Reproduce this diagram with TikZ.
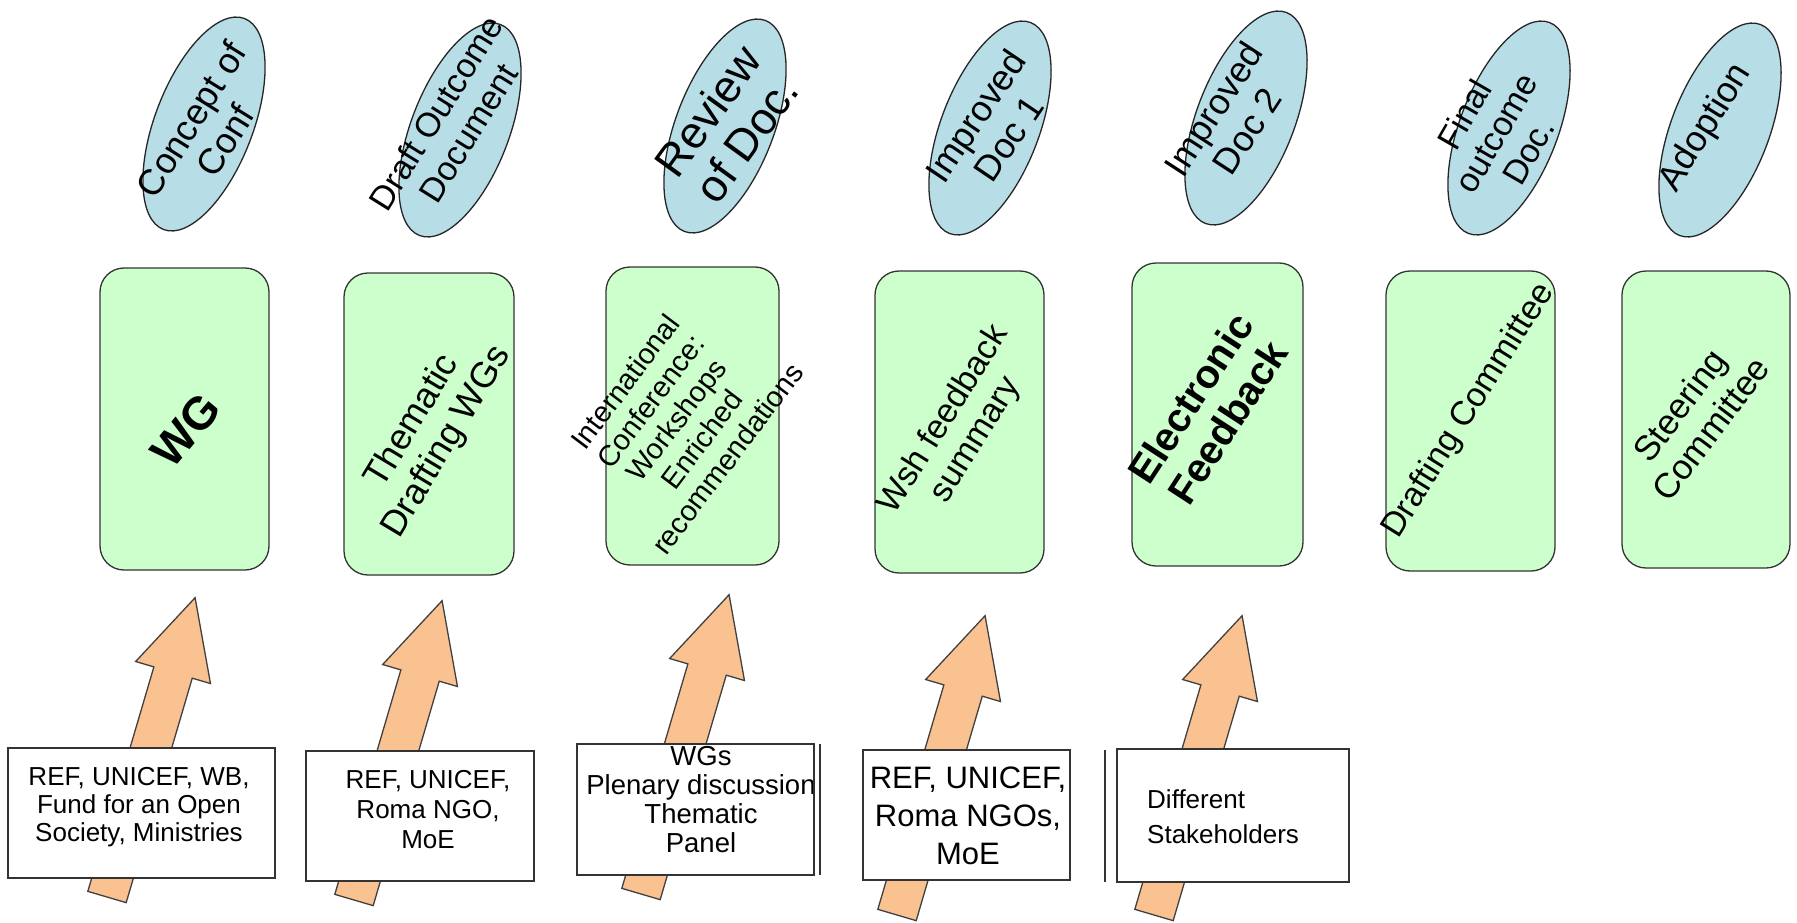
\documentclass[tikz,border=0pt]{standalone}
\usepackage{fontspec}
\setmainfont{Liberation Sans}
\usetikzlibrary{shapes.geometric}
\definecolor{boxgreen}{RGB}{204,255,204}
\definecolor{ellblue}{RGB}{183,221,231}
\definecolor{arrowfill}{RGB}{250,193,145}
\newcommand{\fsz}[2]{\fontsize{#1}{#2}\selectfont}
\newcommand{\blockarrowat}[2]{%
  \draw[blockarrow, shift={(#1,#2)}, rotate=-16.4]
    (-20,0) -- (-20,-234) -- (-39,-234) -- (0,-312) -- (39,-234) -- (20,-234) -- (20,0) -- cycle;}
\begin{document}
\begin{tikzpicture}[x=1pt,y=-1pt,
  greenbox/.style={draw=black!80, line width=1.3pt, fill=boxgreen, rounded corners=24pt, inner sep=0pt},
  ellnode/.style={draw=black!85, line width=1.3pt, fill=ellblue, ellipse, minimum width=226pt, minimum height=98pt, rotate=69, inner sep=0pt},
  lbl/.style={align=center, inner sep=0pt, text=black},
  srcbox/.style={draw=black!80, line width=1.3pt, inner sep=0pt},
  blockarrow/.style={draw=black!75, line width=1.3pt, fill=arrowfill, line join=miter},
  thinline/.style={draw=black!80, line width=1.3pt},
]
\useasboundingbox (0,0) rectangle (1797,923);

% ---- ellipses (top row)
\node[ellnode] (e1) at (204,124) {};
\node[ellnode] (e2) at (460,130) {};
\node[ellnode] (e3) at (725,126) {};
\node[ellnode] (e4) at (990,128) {};
\node[ellnode] (e5) at (1246,118) {};
\node[ellnode] (e6) at (1509,128) {};
\node[ellnode] (e7) at (1720,130) {};

\node[lbl, rotate=58, font=\fsz{36}{40}] (te1) at (208,130) {Concept of\\Conf};
\node[lbl, rotate=58, font=\fsz{34}{38}] (te2) at (452,123) {Draft Outcome\\Document};
\node[lbl, rotate=54, font=\fsz{45}{48}] (te3) at (727,125) {Review\\of Doc.};
\node[lbl, rotate=56, font=\fsz{36}{40}] (te4) at (992,127) {Improved\\Doc 1};
\node[lbl, rotate=57, font=\fsz{36}{40}] (te5) at (1230,120) {Improved\\Doc 2};
\node[lbl, rotate=60, font=\fsz{34}{37}] (te6) at (1496,133) {Final\\outcome\\Doc.};
\node[lbl, rotate=58, font=\fsz{36}{40}] (te7) at (1706,128) {Adoption};

% ---- green boxes (middle row)
\node[greenbox, minimum width=169pt, minimum height=302pt] (g1) at (184.5,419) {};
\node[greenbox, minimum width=170pt, minimum height=302pt] (g2) at (429,424) {};
\node[greenbox, minimum width=173pt, minimum height=298pt] (g3) at (692.5,416) {};
\node[greenbox, minimum width=169pt, minimum height=302pt] (g4) at (959.5,422) {};
\node[greenbox, minimum width=171pt, minimum height=303pt] (g5) at (1217.5,414.5) {};
\node[greenbox, minimum width=169pt, minimum height=300pt] (g6) at (1470.5,421) {};
\node[greenbox, minimum width=168pt, minimum height=297pt] (g7) at (1706,419.5) {};

\node[lbl, rotate=50, font=\bfseries\fsz{46}{50}] (tg1) at (186,430) {WG};
\node[lbl, rotate=59, font=\fsz{36}{40}] (tg2) at (430,432) {Thematic\\Drafting WGs};
\node[lbl, rotate=53, font=\fsz{29}{32}] (tg3) at (676,420) {International\\Conference:\\Workshops\\Enriched\\recommendations};
\node[lbl, rotate=58, font=\fsz{34}{38}] (tg4) at (960,430) {Wsh feedback\\summary};
\node[lbl, rotate=57, font=\bfseries\fsz{40}{44}] (tg5) at (1209,410) {Electronic\\Feedback};
\node[lbl, rotate=58, font=\fsz{34}{38}] (tg6) at (1469,411) {Drafting Committee};
\node[lbl, rotate=53, font=\fsz{35}{39}] (tg7) at (1695,417) {Steering\\Committee};

% ---- block arrows
\blockarrowat{107}{897}
\blockarrowat{354}{900}
\blockarrowat{641}{894}
\blockarrowat{897}{915}
\blockarrowat{1154}{915}

% ---- source boxes (bottom row)
\node[srcbox, fill=white, minimum width=267pt, minimum height=130pt] (s1) at (141.5,813) {};
\node[srcbox, fill=white, minimum width=228pt, minimum height=130pt] (s2) at (420,816) {};
\node[srcbox, fill=white, minimum width=237pt, minimum height=131pt] (s3) at (695.5,809.5) {};
\node[srcbox, fill=white, minimum width=207pt, minimum height=130pt] (s4) at (966.5,815) {};
\node[srcbox, fill=white, minimum width=232pt, minimum height=133pt] (s5) at (1233,815.5) {};

\node[lbl, font=\fsz{26}{28}] (ts1) at (139,807.5) {REF, UNICEF, WB,\\Fund for an Open\\Society, Ministries};
\node[lbl, font=\fsz{26}{30}] (ts2) at (428,810) {REF, UNICEF,\\Roma NGO,\\MoE};
\begin{scope}
  \clip (s3.south west) rectangle (s3.north east);
  \node[lbl, font=\fsz{27.5}{29}] (ts3) at (701,800) {WGs\\Plenary discussion\\Thematic\\Panel};
\end{scope}
\node[srcbox] at (s3) [minimum width=237pt, minimum height=131pt] (s3b) {};
\node[lbl, font=\fsz{31}{38}] (ts4) at (968,816) {REF, UNICEF,\\Roma NGOs,\\MoE};
\node[lbl, align=left, anchor=west, font=\fsz{26}{35}] (ts5) at (1147,817) {Different\\Stakeholders};

% ---- separator lines
\coordinate (l1a) at (820,744); \coordinate (l1b) at (820,875);
\coordinate (l2a) at (1105,750); \coordinate (l2b) at (1105,882);
\draw[thinline] (l1a) -- (l1b);
\draw[thinline] (l2a) -- (l2b);
\end{tikzpicture}
\end{document}
